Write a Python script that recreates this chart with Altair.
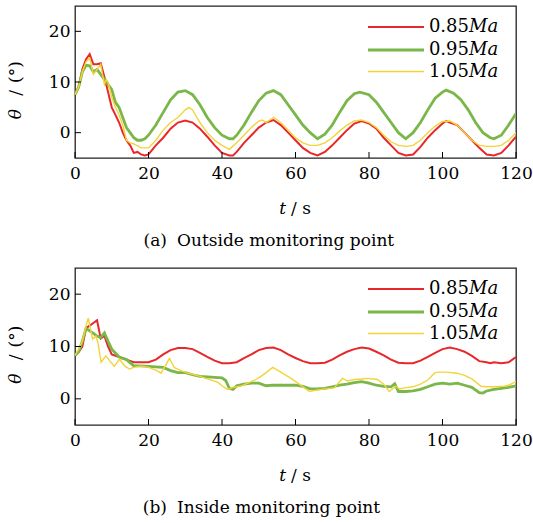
import altair as alt
import pandas as pd

FONT = "DejaVu Serif"
SERIES = ["0.85", "0.95", "1.05"]
COLORS = ["#E8272B", "#7AB648", "#F2D43A"]
WIDTHS = [2.0, 2.8, 1.4]
X_TICKS = [0, 20, 40, 60, 80, 100, 120]
Y_TICKS = [0, 10, 20]
X_DOMAIN = [0, 120]
Y_DOMAIN = [-5, 25]

# ---------- (a) outside monitoring point ----------
a_t_085 = [0, 1, 2, 3, 4, 5, 6, 7, 8, 9, 10, 11, 12, 13, 14, 15, 16, 17, 18, 19, 20,
           22, 24, 26, 28, 30, 32, 34, 36, 38, 40, 42, 43,
           44, 46, 48, 50, 52, 54, 56, 58, 60, 62, 64, 66, 68, 70, 72, 74, 76, 78, 80,
           82, 84, 86, 88, 90, 92, 94, 96, 98, 100, 101,
           102, 104, 106, 108, 110, 112, 114, 116, 118, 120]
a_v_085 = [7.5, 9, 12.5, 14.5, 15.5, 13.5, 13.5, 13.7, 11, 8, 5, 3.5, 2, 0, -1.5, -2.5, -4, -3.8, -4.3, -4.5, -4.3,
           -2.5, -1, 0.8, 2, 2.4, 2, 0.8, -0.8, -2.5, -4, -4.5, -4.5,
           -3.8, -2, -0.5, 1, 2, 2.5, 1.5, 0, -1.5, -3, -4, -4.5, -3.8, -2.5, -1, 0.5, 1.8, 2.3, 1.8,
           0.8, -1, -2.5, -4, -4.5, -4.3, -2.8, -1, 0.5, 1.8, 2.3,
           2, 1.5, 0, -1.5, -3, -4.3, -4.5, -4, -2.5, -0.8]

a_t_095 = [0, 1, 2, 3, 4, 5, 6, 7, 8, 9, 10, 11, 12, 13, 14, 15, 16, 17, 18, 19, 20,
           22, 24, 26, 28, 30, 32, 34, 36, 38, 40, 42, 43,
           44, 46, 48, 50, 52, 54, 56, 58, 60, 62, 64, 66, 68, 70, 72, 74, 76, 77.5,
           80, 82, 84, 86, 88, 90, 92, 94, 96, 98, 100,
           101, 103, 105, 107, 109, 111, 113, 114, 116, 118, 120]
a_v_095 = [7.5, 9, 12, 13.3, 13.2, 12, 12.5, 11.5, 10.5, 9.5, 8.5, 6, 5, 3, 1, 0, -1, -1.5, -1.5, -1.2, -0.5,
           1.5, 4, 6.5, 8, 8.3, 7.5, 5.5, 3, 1, -0.5, -1.2, -1.2,
           -0.5, 1.5, 4, 6.3, 7.8, 8.3, 7.5, 5.5, 3.5, 1.5, 0, -1.2, -0.3, 1.5, 4, 6.3, 7.7, 8,
           7.5, 6, 4, 2, 0, -1.2, 0, 2, 4.5, 6.8, 8,
           8.4, 7.8, 6.5, 4.5, 2, 0, -1, -1.2, -0.5, 1.5, 3.8]

a_t_105 = [0, 1, 2, 3, 4, 5, 6, 7, 7.5, 8, 8.5, 9, 10, 11, 12, 13, 14, 15, 16, 18, 20,
           22, 24, 26, 28, 30, 31, 32, 34, 36, 38, 40, 42, 44, 46, 48, 50, 51,
           52, 54, 56, 58, 60, 62, 64, 66, 68, 70, 72, 74, 76, 78, 80, 82, 84, 86,
           88, 90, 92, 94, 96, 98, 100, 102, 104, 106, 108, 110, 112, 114, 116, 118, 120]
a_v_105 = [7.5, 9, 12, 14, 14.7, 11.5, 12.5, 13.5, 11.5, 9.5, 10.5, 10, 7, 5, 3.5, 1.5, -1.5, -2, -2.2, -3, -3,
           -1.5, 0.5, 2, 3, 4.5, 5, 4.5, 2, 0, -1.5, -2.5, -3.3, -2, -0.5, 1, 2.3, 2.5,
           2, 3, 2, 0.5, -1, -2, -2.5, -2.5, -2, -1, 0.3, 1.5, 2.3, 2.5, 2, 1, -0.5, -1.8,
           -2.5, -2.7, -2.5, -1.5, 0, 1.3, 2.2, 2.3, 1.5, 0, -1.5, -2.5, -2.7, -2.7, -2.5, -1.5, 0]

# ---------- (b) inside monitoring point ----------
b_t_085 = [0, 1, 2, 3, 4, 5, 6, 7, 8, 9, 10,
           12, 14, 16, 18, 20, 22, 24, 26, 28, 30, 32, 34, 36, 38, 40, 42, 44, 46, 48, 50,
           52, 54, 56, 58, 60, 62, 64, 66, 68, 70, 72, 74, 76, 78, 80, 82, 84, 86, 88, 90,
           92, 94, 96, 98, 100, 102, 104, 106, 108, 110,
           112, 113, 114, 116, 118, 119, 120]
b_v_085 = [8.3, 9, 10, 13.5, 14, 14.5, 15, 11.5, 12, 10, 8.5,
           8, 7.5, 7, 7, 7, 7.5, 8.5, 9.3, 9.7, 9.7, 9.5, 8.8, 8, 7.3, 6.8, 6.8, 7, 7.8, 8.5, 9.3,
           9.7, 9.8, 9.3, 8.5, 7.8, 7.2, 6.8, 6.8, 6.9, 7.5, 8.3, 9, 9.5, 9.8, 9.6, 9, 8.3, 7.5, 6.9, 6.8,
           6.8, 7.3, 8, 8.8, 9.5, 9.8, 9.5, 9, 8.2, 7.2,
           7, 6.8, 7, 6.8, 7, 7.5, 8]

b_t_095 = [0, 1, 2, 3, 4, 5, 6, 7, 8, 9, 10,
           12, 14, 16, 18, 20, 22, 24, 26, 28, 30, 32, 34, 36, 38, 40, 41, 42, 43,
           44, 46, 48, 50, 52, 54, 56, 58, 60, 62, 64, 66, 68, 70, 72, 74, 76, 78, 80, 82, 84, 86, 87,
           88, 90, 92, 94, 96, 98, 100, 102, 104, 106, 108, 110, 111,
           112, 114, 116, 118, 120]
b_v_095 = [8.3, 9, 11, 13.5, 13, 12.5, 12, 11.7, 12.6, 11, 9.5,
           8, 7.5, 6.3, 6.3, 6.2, 6.1, 6, 5.4, 5, 5, 4.6, 4.3, 4.2, 4.1, 4, 3.5, 2, 1.8,
           2.5, 2.8, 3, 3, 2.5, 2.6, 2.6, 2.6, 2.6, 2.4, 1.9, 1.9, 2, 2.3, 2.6, 2.8, 3.1, 3.3, 3, 2.6, 2.4, 2.3, 2.9,
           1.4, 1.4, 1.5, 1.8, 2.3, 2.8, 3, 2.8, 3, 2.6, 2.2, 1.2, 1.1,
           1.5, 1.8, 2, 2.2, 2.5]

b_t_105 = [0, 1, 2, 3, 3.6, 4.8, 5.7, 6.3, 7.1, 8.4, 9.5, 10.7, 12.1, 13.5, 14.8, 16, 18, 20, 22, 23.4,
           25.7, 27, 28.5, 30.6, 32, 34, 36, 38.8, 40, 41.5, 43, 45, 47, 49, 50.6, 52, 53.8, 56, 58.8, 61,
           63.8, 66, 68, 70.5, 72.8, 74.2, 76, 78, 79.6, 82.3, 84, 85.5, 87.3, 88.3, 89.6, 92, 94, 96, 97.8, 98.7,
           101, 104, 106, 108, 110.5, 112, 114, 116.8, 118, 120]
b_v_105 = [8.3, 9.5, 11, 14, 15.4, 11.4, 12, 10.5, 7, 8.2, 7.2, 6.2, 7.6, 6.3, 5.7, 6, 6.3, 6, 5.5, 4.9,
           7.7, 6, 5.5, 4.9, 4.7, 4.3, 3.8, 3.2, 2.5, 1.8, 2.2, 2.4, 3, 3.6, 4.3, 5, 6, 5.1, 3.9, 2.8,
           1.4, 1.7, 1.9, 2.1, 3.9, 3.4, 3.7, 3.8, 3.9, 3.7, 2.8, 1.4, 2.4, 1.9, 2.1, 2.3, 2.8, 3.6, 4.9, 5.1,
           5.1, 4.9, 4.5, 3.8, 2.4, 2.3, 2.3, 2.4, 2.6, 3.3]

CAPTIONS = ["(a)  Outside monitoring point", "(b)  Inside monitoring point"]
Y_TITLE = ["\u03b8", "/", "(\u00b0)"]
X_TITLE = ["t", "/ s"]

W = 441
ONE = pd.DataFrame({"k": [0]})
FS = 17


def txt(text, x, y, size=FS, italic=False, align="center", angle=None):
    kw = dict(font=FONT, fontSize=size, color="black", align=align, baseline="middle",
              fontStyle="italic" if italic else "normal", text=text)
    if angle is not None:
        kw["angle"] = angle
    return alt.Chart(ONE).mark_text(**kw).encode(x=alt.value(x), y=alt.value(y))


def caption_parts(caption, x, y):
    label, rest = caption.split("  ", 1)
    return [txt(label, x - 5, y, align="right"), txt(rest, x + 5, y, align="left")]


def panel(series, h, caption, leg_y):
    xs = alt.Scale(domain=X_DOMAIN, nice=False, zero=False)
    ys = alt.Scale(domain=Y_DOMAIN, nice=False, zero=False)
    x_axis = alt.Axis(values=X_TICKS, ticks=False, domain=False, grid=False, title=None,
                      labelFont=FONT, labelFontSize=FS, labelColor="black", labelPadding=7,
                      labelFlush=False)
    y_axis = alt.Axis(values=Y_TICKS, ticks=False, domain=False, grid=False, title=None,
                      labelFont=FONT, labelFontSize=FS, labelColor="black", labelPadding=5)
    layers = []
    for i in [0, 1, 2]:
        t, v = series[i]
        df = pd.DataFrame({"t": t, "v": v})
        layers.append(
            alt.Chart(df).mark_line(color=COLORS[i], strokeWidth=WIDTHS[i], clip=True).encode(
                x=alt.X("t:Q", scale=xs, axis=x_axis),
                y=alt.Y("v:Q", scale=ys, axis=y_axis),
            )
        )
    # inward ticks
    layers.append(alt.Chart(pd.DataFrame({"t": X_TICKS})).mark_rule(color="black", strokeWidth=1).encode(
        x=alt.X("t:Q", scale=xs), y=alt.value(h), y2=alt.value(h - 6)))
    layers.append(alt.Chart(pd.DataFrame({"v": Y_TICKS})).mark_rule(color="black", strokeWidth=1).encode(
        y=alt.Y("v:Q", scale=ys), x=alt.value(0), x2=alt.value(6)))
    # legend
    for i in range(3):
        layers.append(alt.Chart(ONE).mark_rule(color=COLORS[i], strokeWidth=WIDTHS[i]).encode(
            x=alt.value(293), x2=alt.value(349), y=alt.value(leg_y[i])))
        layers.append(txt(SERIES[i], 394, leg_y[i], size=18, align="right"))
        layers.append(txt("Ma", 394, leg_y[i], size=18, italic=True, align="left"))
    # axis titles
    c = h / 2
    layers.append(txt(Y_TITLE[0], -59, c + 32, italic=True, angle=270))
    layers.append(txt(Y_TITLE[1], -59, c + 11, angle=270))
    layers.append(txt(Y_TITLE[2], -59, c - 10, angle=270))
    layers.append(txt(X_TITLE[0], 211, h + 51, italic=True, align="right"))
    layers.append(txt(X_TITLE[1], 216, h + 51, align="left"))
    layers.extend(caption_parts(caption, 97, h + 83))
    # invisible bounds anchor
    layers.append(alt.Chart(ONE).mark_rule(opacity=0, strokeWidth=0).encode(
        x=alt.value(-74), x2=alt.value(-74), y=alt.value(0), y2=alt.value(h + 96)))
    return alt.layer(*layers).properties(width=W, height=h)


top = panel([(a_t_085, a_v_085), (a_t_095, a_v_095), (a_t_105, a_v_105)], 152, CAPTIONS[0], [21, 44, 65.5])
bottom = panel([(b_t_085, b_v_085), (b_t_095, b_v_095), (b_t_105, b_v_105)], 157, CAPTIONS[1], [21, 44, 65.5])

chart = alt.vconcat(top, bottom, spacing=12).properties(
    padding={"left": 0, "top": 5, "right": 0, "bottom": 0},
    background="white",
).configure_view(stroke="#222222", strokeWidth=1.3).configure_concat(spacing=12)

chart.save("out.html", embed_options={"renderer": "svg", "actions": False})
